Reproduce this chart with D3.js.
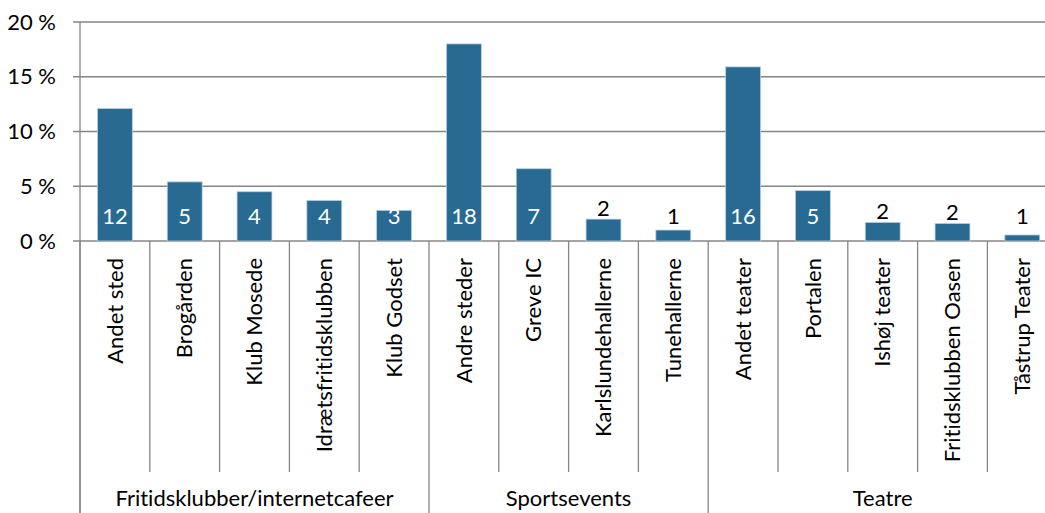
<!DOCTYPE html>
<html><head><meta charset="utf-8">
<script src="https://cdn.jsdelivr.net/npm/d3@7"></script>
<style>body{margin:0;background:#fff;overflow:hidden}svg{display:block}text{font-family:Lato,"Open Sans",sans-serif;font-variant-ligatures:none;font-feature-settings:"liga" 0,"clig" 0}</style>
</head><body>
<svg id="c" width="1045" height="513"></svg>
<script>
const categories = ["Andet sted","Brogården","Klub Mosede","Idrætsfritidsklubben","Klub Godset","Andre steder","Greve IC","Karlslundehallerne","Tunehallerne","Andet teater","Portalen","Ishøj teater","Fritidsklubben Oasen","Tåstrup Teater"];
const groups = ["Fritidsklubber/internetcafeer","Fritidsklubber/internetcafeer","Fritidsklubber/internetcafeer","Fritidsklubber/internetcafeer","Fritidsklubber/internetcafeer","Sportsevents","Sportsevents","Sportsevents","Sportsevents","Teatre","Teatre","Teatre","Teatre","Teatre"];
const percents = [12.1,5.4,4.5,3.7,2.8,18.0,6.6,2.0,1.0,15.9,4.6,1.7,1.6,0.55];
const counts = [12,5,4,4,3,18,7,2,1,16,5,2,2,1];
const yTicks = [0,5,10,15,20];

const svg = d3.select("#c");
const left = 80, zeroY = 241, topY = 22, step = 69.8;
const x = d3.scaleBand().domain(categories).range([left, left + step*categories.length]).paddingInner(0.5).paddingOuter(0.25);
const y = d3.scaleLinear().domain([0,20]).range([zeroY, topY]);
const grid = "#868686", barColor = "#286A92";
const fs = 22;

// gridlines
svg.append("g").selectAll("line").data(yTicks).join("line")
  .attr("x1", left-7).attr("x2", 1045).attr("y1", d=>y(d)).attr("y2", d=>y(d))
  .attr("stroke", grid).attr("stroke-width", 1.3);
// y axis line
svg.append("line").attr("x1", left).attr("x2", left).attr("y1", topY).attr("y2", 513).attr("stroke", grid).attr("stroke-width",1.3);
// y labels
svg.append("g").selectAll("text").data(yTicks).join("text")
  .attr("x", 56).attr("y", d=>y(d)).attr("dy","0.35em").attr("text-anchor","end")
  .attr("font-size", fs).attr("fill","#000").text(d=>d+" %");

// bars
svg.append("g").selectAll("rect").data(categories).join("rect")
  .attr("x", d=>x(d)).attr("width", x.bandwidth())
  .attr("y", (d,i)=>y(percents[i])).attr("height",(d,i)=>zeroY - y(percents[i]))
  .attr("fill", barColor).attr("stroke","#b9cfdf").attr("stroke-width",0.8);

// value labels
const inside = v => v >= 2.5;
svg.append("g").selectAll("text").data(categories).join("text")
  .attr("x", d=>x(d)+x.bandwidth()/2)
  .attr("y", (d,i)=> inside(percents[i]) ? 224 : Math.min(224, y(percents[i]) - 3))
  .attr("text-anchor","middle").attr("font-size",fs)
  .attr("fill",(d,i)=> inside(percents[i]) ? "#fff" : "#000")
  .text((d,i)=>counts[i]);

// category tick lines
const bounds = d3.range(categories.length+1).map(i => left + i*x.step());
const groupStarts = [0,5,9,14];
svg.append("g").selectAll("line").data(bounds).join("line")
  .attr("x1", d=>d).attr("x2", d=>d).attr("y1", zeroY)
  .attr("y2", (d,i)=> groupStarts.includes(i) ? 513 : 472)
  .attr("stroke", grid).attr("stroke-width",1.3);

// category labels
svg.append("g").selectAll("text").data(categories).join("text")
  .attr("transform", d=>`translate(${x(d)+x.bandwidth()/2},258) rotate(-90)`)
  .attr("dy","0.35em").attr("text-anchor","end").attr("font-size",fs).attr("fill","#000")
  .text(d=>d);

// group labels
const groupNames = Array.from(new Set(groups));
svg.append("g").selectAll("text").data(groupNames).join("text")
  .attr("x", g => { const idx = groups.map((v,i)=>v===g?i:-1).filter(i=>i>=0); return (bounds[idx[0]] + bounds[idx[idx.length-1]+1])/2; })
  .attr("y", 506).attr("text-anchor","middle").attr("font-size",fs).attr("fill","#000")
  .text(g=>g);
</script>
</body></html>
